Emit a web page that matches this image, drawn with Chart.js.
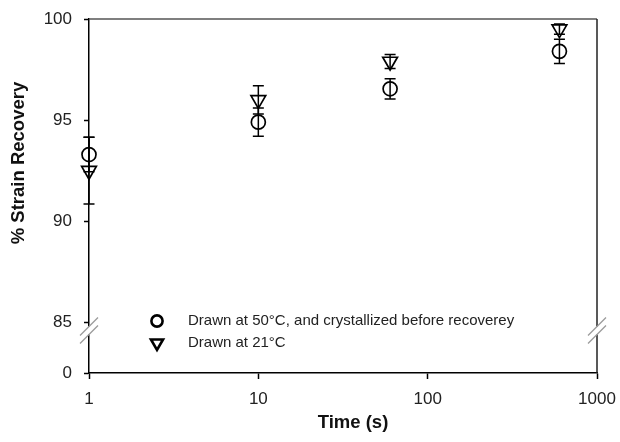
<!DOCTYPE html>
<html>
<head>
<meta charset="utf-8">
<script src="https://cdn.jsdelivr.net/npm/chart.js@4/dist/chart.umd.min.js"></script>
<style>
html, body { margin: 0; padding: 0; background: #fff; }
</style>
</head>
<body>
<canvas id="recoveryChart" width="620" height="442"></canvas>
<script>
const times = [1, 10, 60, 600];

const drawn50 = [93.3, 94.9, 96.55, 98.4];
const drawn50Err = [0.85, 0.7, 0.5, 0.6];

const drawn21 = [92.5, 96.0, 97.9, 99.5];
const drawn21Err = [1.65, 0.7, 0.35, 0.25];

const seriesNames = ['Drawn at 50\u00B0C, and crystallized before recoverey', 'Drawn at 21\u00B0C'];

const xTicks = [1, 10, 100, 1000];
const yTicks = [85, 90, 95, 100];
const zeroAt = 82.5;   // the "0" tick sits just below the axis break
const breakAt = 84.6;

const FONT = '"Liberation Sans", Arial, Helvetica, sans-serif';

function points(vals) {
   return times.map((t, i) => ({ x: t, y: vals[i] }));
}

// vertical error bars with caps
const errorBars = {
   id: 'errorBars',
   afterDatasetsDraw(chart) {
      const { ctx, scales: { x, y } } = chart;
      ctx.save();
      ctx.strokeStyle = '#000';
      ctx.lineWidth = 1.5;
      chart.data.datasets.forEach(ds => {
         ds.data.forEach((p, j) => {
            const e = ds.errors[j];
            const px = x.getPixelForValue(p.x);
            const top = y.getPixelForValue(p.y + e);
            const bot = y.getPixelForValue(p.y - e);
            ctx.beginPath();
            ctx.moveTo(px, top); ctx.lineTo(px, bot);
            ctx.moveTo(px - 5.5, top); ctx.lineTo(px + 5.5, top);
            ctx.moveTo(px - 5.5, bot); ctx.lineTo(px + 5.5, bot);
            ctx.stroke();
         });
      });
      ctx.restore();
   }
};

function marker(ctx, style, x, y, r) {
   ctx.beginPath();
   if (style === 'circle') {
      ctx.arc(x, y, r, 0, Math.PI * 2);
   } else {
      ctx.moveTo(x - r * 0.866, y - r * 0.5);
      ctx.lineTo(x + r * 0.866, y - r * 0.5);
      ctx.lineTo(x, y + r);
      ctx.closePath();
   }
   ctx.stroke();
}

// frame, axis breaks, legend and axis titles
const decorations = {
   id: 'decorations',
   afterDraw(chart) {
      const { ctx, chartArea: a, scales: { y } } = chart;
      ctx.save();

      ctx.strokeStyle = '#555';
      ctx.lineWidth = 1.5;
      ctx.beginPath();
      ctx.moveTo(a.left, a.top);
      ctx.lineTo(a.right, a.top);
      ctx.stroke();
      ctx.strokeStyle = '#222';
      ctx.beginPath();
      ctx.moveTo(a.right, a.top);
      ctx.lineTo(a.right, a.bottom);
      ctx.stroke();

      const yb = y.getPixelForValue(breakAt);
      [a.left, a.right].forEach(xb => {
         ctx.fillStyle = '#fff';
         ctx.fillRect(xb - 2, yb - 4, 4, 8);
         ctx.strokeStyle = '#999';
         ctx.lineWidth = 1.3;
         [-4, 4].forEach(d => {
            ctx.beginPath();
            ctx.moveTo(xb - 9, yb + d + 9);
            ctx.lineTo(xb + 9, yb + d - 9);
            ctx.stroke();
         });
      });

      // legend
      ctx.strokeStyle = '#000';
      ctx.lineWidth = 2.6;
      ctx.fillStyle = '#222';
      ctx.font = '15px ' + FONT;
      ctx.textBaseline = 'middle';
      chart.data.datasets.forEach((ds, i) => {
         const ly = 321 + i * 22;
         marker(ctx, ds.pointStyle, 157, ly, ds.pointStyle === 'circle' ? 5.6 : 7);
         ctx.fillText(ds.label, 188, ly);
      });

      // axis titles
      ctx.fillStyle = '#111';
      ctx.font = 'bold 18.5px ' + FONT;
      ctx.textAlign = 'center';
      ctx.fillText('Time (s)', 353, 423);
      ctx.translate(19, 163);
      ctx.rotate(-Math.PI / 2);
      ctx.fillText('% Strain Recovery', 0, 0);

      ctx.restore();
   }
};

new Chart(document.getElementById('recoveryChart'), {
   type: 'scatter',

   data: {
      datasets: [
         {
            label: seriesNames[0],
            data: points(drawn50),
            errors: drawn50Err,
            pointStyle: 'circle',
            pointRadius: 7,
            pointBorderWidth: 1.7,
            pointBorderColor: '#000',
            pointBackgroundColor: 'rgba(0,0,0,0)',
            clip: false
         },
         {
            label: seriesNames[1],
            data: points(drawn21),
            errors: drawn21Err,
            pointStyle: 'triangle',
            rotation: 180,
            pointRadius: 8.5,
            pointBorderWidth: 1.7,
            pointBorderColor: '#000',
            pointBackgroundColor: 'rgba(0,0,0,0)',
            clip: false
         }
      ]
   },

   options: {
      responsive: false,
      animation: false,
      events: [],

      layout: {
         padding: { left: 0, right: 23, top: 19, bottom: 0 }
      },

      plugins: {
         legend: { display: false },
         tooltip: { enabled: false }
      },

      scales: {
         x: {
            type: 'logarithmic',
            min: 1,
            max: 1000,
            afterBuildTicks: s => { s.ticks = xTicks.map(v => ({ value: v })); },
            afterFit: s => { s.height = 69; s.paddingLeft = 0; s.paddingRight = 0; },
            grid: {
               drawOnChartArea: false,
               tickLength: 6,
               tickWidth: 1.5,
               tickColor: '#000'
            },
            border: { color: '#000', width: 1.5 },
            ticks: {
               padding: 10,
               color: '#222',
               maxRotation: 0,
               font: { family: FONT, size: 17 },
               callback: v => String(v)
            }
         },

         y: {
            min: zeroAt,
            max: 100,
            afterBuildTicks: s => { s.ticks = [zeroAt].concat(yTicks).map(v => ({ value: v })); },
            afterFit: s => { s.width = 89; s.paddingTop = 0; s.paddingBottom = 0; },
            grid: {
               drawOnChartArea: false,
               tickLength: 5,
               tickWidth: 1.5,
               tickColor: '#000'
            },
            border: { color: '#000', width: 1.5 },
            ticks: {
               padding: 12,
               color: '#222',
               font: { family: FONT, size: 17 },
               callback: v => (v === zeroAt ? '0' : String(v))
            }
         }
      }
   },

   plugins: [errorBars, decorations]
});
</script>
</body>
</html>
